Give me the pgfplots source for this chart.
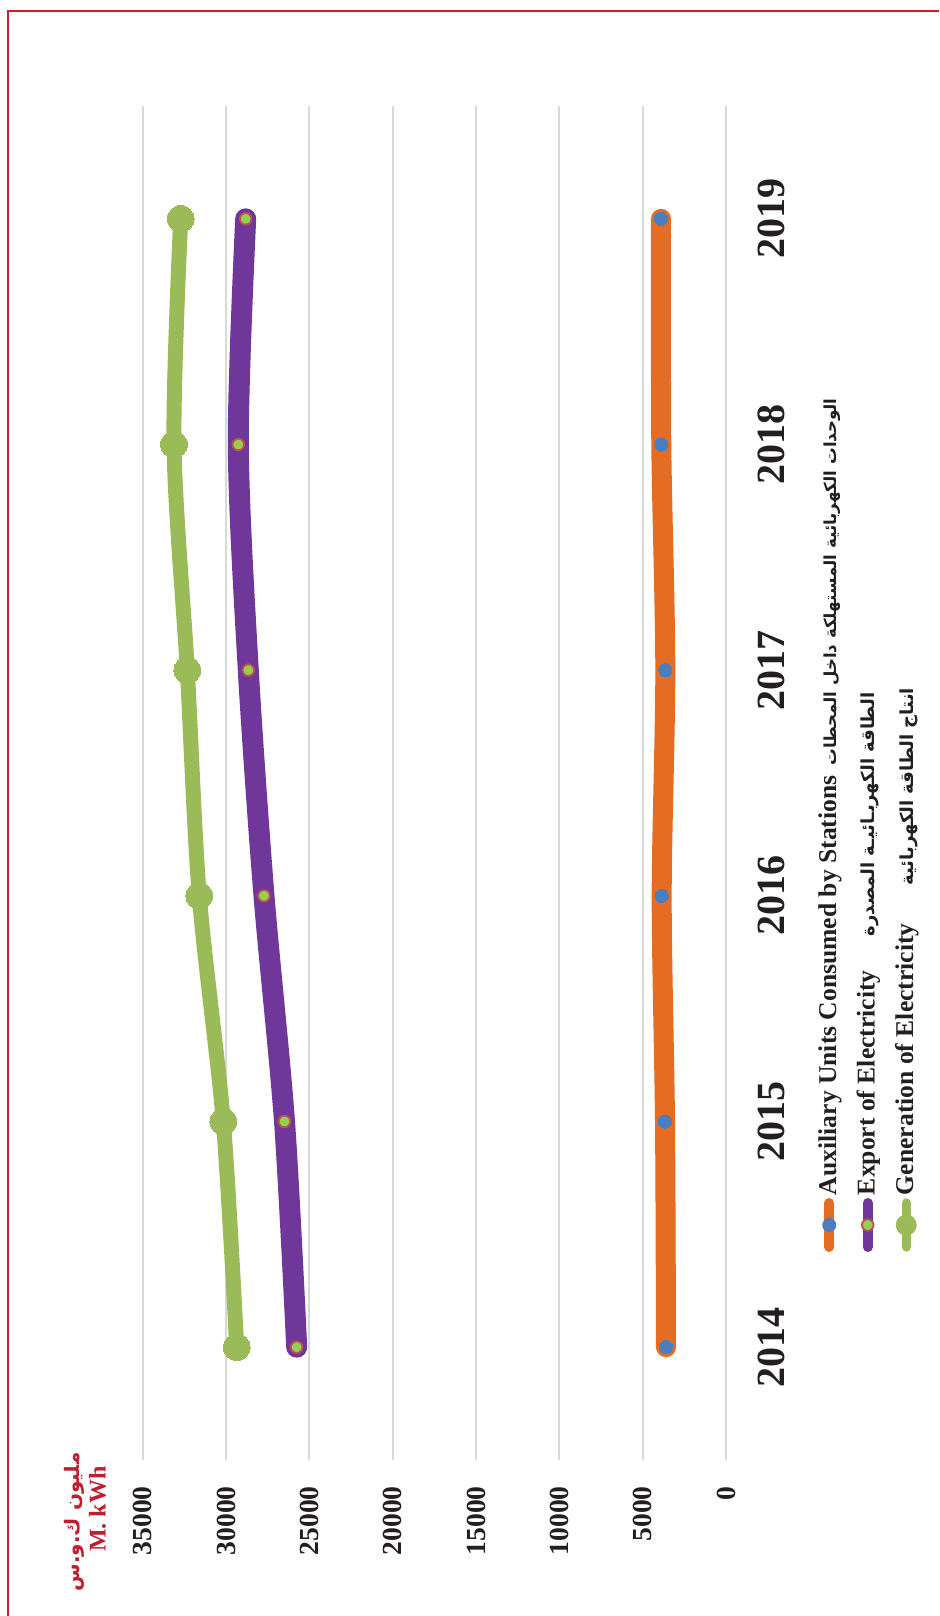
\documentclass[border=0pt]{standalone}
\usepackage{pgfplots}
\pgfplotsset{compat=1.18}
\usepackage{fontspec}
\setmainfont{Liberation Serif}
\newfontfamily\arabicfont[Script=Arabic]{DejaVu Sans}
\TeXXeTstate=1
\definecolor{auxorange}{HTML}{E46C23}
\definecolor{markblue}{HTML}{4A7EBF}
\definecolor{exppurple}{HTML}{6F3799}
\definecolor{gengreen}{HTML}{9BBB59}
\definecolor{lightgreen}{HTML}{92D050}
\definecolor{markred}{HTML}{C0504D}
\definecolor{framered}{HTML}{C8202A}
\definecolor{titlered}{HTML}{BE1E2D}
\definecolor{gridgray}{HTML}{D9D9D9}
\definecolor{labelblack}{HTML}{231F20}
\begin{document}
\rotatebox{90}{%
\begin{tikzpicture}
\useasboundingbox (0,0) rectangle (808pt,469.5pt);
\draw[framered, line width=1pt] (0,465.5pt) -- (802.5pt,465.5pt) -- (802.5pt,0);
\begin{axis}[
  at={(78pt,106.5pt)}, anchor=south west,
  scale only axis, width=677pt, height=291.67pt,
  xmin=2013.5, xmax=2019.5, ymin=0, ymax=35000,
  xtick={2014,2015,2016,2017,2018,2019},
  ytick={0,5000,10000,15000,20000,25000,30000,35000},
  xticklabels={2014,2015,2016,2017,2018,2019},
  yticklabels={0,5000,10000,15000,20000,25000,30000,35000},
  scaled y ticks=false, scaled x ticks=false,
  axis line style={draw=none},
  major tick length=0pt,
  ymajorgrids, grid style={gridgray, line width=0.9pt},
  clip=false,
  xticklabel style={font=\bfseries\fontsize{20}{22}\selectfont, anchor=north, inner sep=0pt, yshift=-15.5pt, text=labelblack},
  yticklabel style={font=\bfseries\fontsize{13.8}{15}\selectfont, anchor=east, inner sep=0pt, xshift=-13pt, text=labelblack},
  legend style={draw=none, fill=none, at={(axis description cs:0.1536,-0.144)}, anchor=north west,
    inner sep=0pt, outer sep=0pt, column sep=1.5pt, row sep=0pt,
    font=\bfseries\fontsize{12.8}{14}\selectfont, text=labelblack,
    nodes={inner sep=0pt, text height=13pt, text depth=6.25pt}},
  legend cell align=left,
]
\addplot[auxorange, line width=10pt, line cap=round, line join=round, smooth,
  mark=*, mark size=3.3pt, mark options={fill=markblue, draw=markblue, line width=0pt},
  legend image code/.code={\draw[auxorange, line width=5pt, line cap=round] (2.5pt,0) -- (24.5pt,0); \path[fill=markblue, draw=none] (13.5pt,0) circle (3.5pt);}]
  coordinates {(2014,3600)(2015,3660)(2016,3858)(2017,3642)(2018,3882)(2019,3900)};
\addlegendentry{\bfseries Auxiliary Units Consumed by Stations\hspace{5pt}{\arabicfont\fontsize{8.3}{11}\selectfont\beginR الوحدات الكهربائية المستهلكة داخل المحطات\endR}}
\addplot[exppurple, line width=10.5pt, line cap=round, line join=round, smooth,
  mark=*, mark size=2.9pt, mark options={fill=lightgreen, draw=markred, line width=0.9pt},
  legend image code/.code={\draw[exppurple, line width=5pt, line cap=round] (2.5pt,0) -- (24.5pt,0); \path[fill=lightgreen, draw=markred, line width=0.9pt] (13.5pt,0) circle (2.9pt);}]
  coordinates {(2014,25758)(2015,26490)(2016,27720)(2017,28662)(2018,29262)(2019,28818)};
\addlegendentry{\bfseries Export of Electricity\hspace{17pt}{\arabicfont\fontsize{9}{11}\selectfont\beginR الطاقة الكهربـائيـة المصدرة\endR}}
\addplot[gengreen, line width=7.5pt, line cap=round, line join=round, smooth,
  mark=*, mark size=6.7pt, mark options={fill=gengreen, draw=gengreen, line width=0pt},
  legend image code/.code={\draw[gengreen, line width=4.7pt, line cap=round] (2.5pt,0) -- (24.5pt,0); \path[fill=gengreen, draw=none] (13.5pt,0) circle (5.25pt);}]
  coordinates {(2014,29358)(2015,30162)(2016,31602)(2017,32322)(2018,33120)(2019,32718)};
\addlegendentry{\bfseries Generation of Electricity\hspace{19pt}{\arabicfont\fontsize{9}{11}\selectfont\beginR انتاج الطاقة الكهربائية\endR}}
\end{axis}
\node[font=\arabicfont\bfseries\fontsize{10}{12}\selectfont, text=titlered, inner sep=0pt] at (47pt,432.5pt) {\beginR مليون ك.و.س\endR};
\node[font=\bfseries\fontsize{12}{14}\selectfont, text=titlered, inner sep=0pt] at (53.5pt,420.75pt) {M. kWh};
\end{tikzpicture}}
\end{document}
